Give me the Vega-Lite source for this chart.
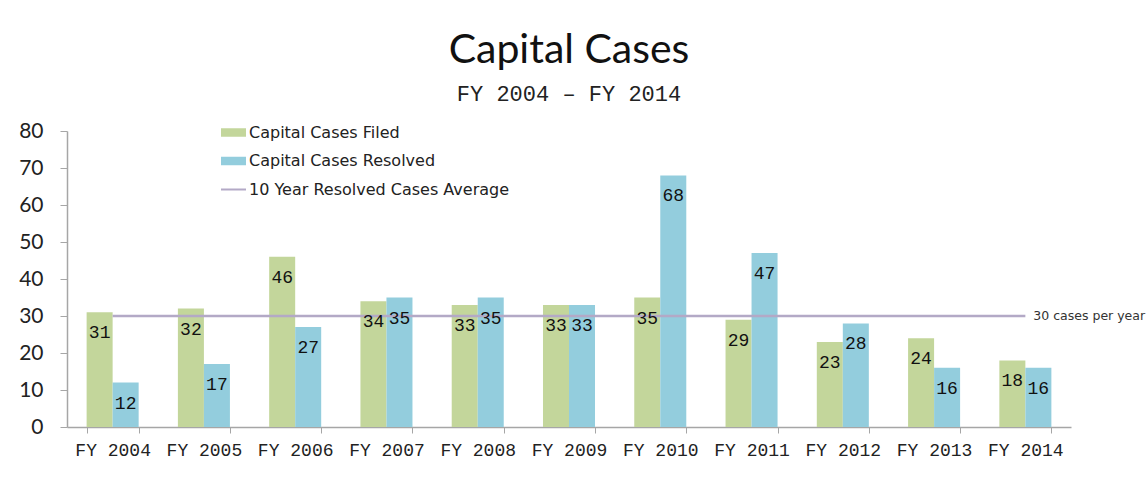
{
  "$schema": "https://vega.github.io/schema/vega-lite/v6.json",
  "width": 1004,
  "height": 296,
  "autosize": {"type": "none"},
  "padding": {"left": 67, "top": 131, "right": 75, "bottom": 54},
  "background": "white",
  "config": {"view": {"stroke": null}, "font": "Lato"},
  "title": {
    "text": "Capital Cases",
    "subtitle": "FY 2004 – FY 2014",
    "fontSize": 41,
    "font": "Lato",
    "fontWeight": "normal",
    "color": "#111111",
    "subtitleFont": "Liberation Mono",
    "subtitleFontSize": 22,
    "subtitleColor": "#222222",
    "subtitlePadding": 12,
    "anchor": "middle",
    "offset": 14
  },
  "datasets": {
    "bars": [
      {"year": "FY 2004", "series": "Capital Cases Filed", "cases": 31},
      {"year": "FY 2004", "series": "Capital Cases Resolved", "cases": 12},
      {"year": "FY 2005", "series": "Capital Cases Filed", "cases": 32},
      {"year": "FY 2005", "series": "Capital Cases Resolved", "cases": 17},
      {"year": "FY 2006", "series": "Capital Cases Filed", "cases": 46},
      {"year": "FY 2006", "series": "Capital Cases Resolved", "cases": 27},
      {"year": "FY 2007", "series": "Capital Cases Filed", "cases": 34},
      {"year": "FY 2007", "series": "Capital Cases Resolved", "cases": 35},
      {"year": "FY 2008", "series": "Capital Cases Filed", "cases": 33},
      {"year": "FY 2008", "series": "Capital Cases Resolved", "cases": 35},
      {"year": "FY 2009", "series": "Capital Cases Filed", "cases": 33},
      {"year": "FY 2009", "series": "Capital Cases Resolved", "cases": 33},
      {"year": "FY 2010", "series": "Capital Cases Filed", "cases": 35},
      {"year": "FY 2010", "series": "Capital Cases Resolved", "cases": 68},
      {"year": "FY 2011", "series": "Capital Cases Filed", "cases": 29},
      {"year": "FY 2011", "series": "Capital Cases Resolved", "cases": 47},
      {"year": "FY 2012", "series": "Capital Cases Filed", "cases": 23},
      {"year": "FY 2012", "series": "Capital Cases Resolved", "cases": 28},
      {"year": "FY 2013", "series": "Capital Cases Filed", "cases": 24},
      {"year": "FY 2013", "series": "Capital Cases Resolved", "cases": 16},
      {"year": "FY 2014", "series": "Capital Cases Filed", "cases": 18},
      {"year": "FY 2014", "series": "Capital Cases Resolved", "cases": 16}
    ],
    "avg": [
      {"year": "FY 2004", "end": "FY 2014", "series": "10 Year Resolved Cases Average", "cases": 30, "note": "30 cases per year"}
    ]
  },
  "encoding": {
    "x": {
      "field": "year",
      "type": "nominal",
      "scale": {"domain": ["FY 2004","FY 2005","FY 2006","FY 2007","FY 2008","FY 2009","FY 2010","FY 2011","FY 2012","FY 2013","FY 2014"], "paddingInner": 0.43, "paddingOuter": 0.215},
      "axis": {
        "title": null,
        "labelAngle": 0,
        "labelFont": "Liberation Mono",
        "labelFontSize": 18,
        "labelColor": "#222222",
        "labelPadding": 8,
        "tickBand": "extent",
        "tickSize": 6,
        "tickColor": "#A6A6A6",
        "domainColor": "#A6A6A6",
        "domainWidth": 1.5
      }
    },
    "y": {
      "field": "cases",
      "type": "quantitative",
      "scale": {"domain": [0, 80], "nice": false},
      "axis": {
        "title": null,
        "values": [0,10,20,30,40,50,60,70,80],
        "labelOverlap": false,
        "grid": false,
        "labelFont": "Lato",
        "labelFontSize": 21,
        "labelColor": "#222222",
        "labelPadding": 17,
        "tickSize": 7,
        "tickColor": "#A6A6A6",
        "domainColor": "#A6A6A6",
        "domainWidth": 1.5
      }
    }
  },
  "layer": [
    {
      "data": {"name": "bars"},
      "mark": {"type": "bar"},
      "encoding": {
        "xOffset": {
          "field": "series",
          "type": "nominal",
          "sort": ["Capital Cases Filed", "Capital Cases Resolved"],
          "scale": {"paddingInner": 0, "paddingOuter": 0}
        },
        "color": {
          "field": "series",
          "type": "nominal",
          "scale": {
            "domain": ["Capital Cases Filed", "Capital Cases Resolved", "10 Year Resolved Cases Average"],
            "range": ["#C3D69B", "#93CDDD", "#B3A9C6"]
          },
          "legend": {
            "title": null,
            "orient": "none",
            "legendX": 154,
            "legendY": -11,
            "padding": 0,
            "labelFont": "DejaVu Sans",
            "labelFontSize": 16,
            "labelColor": "#222222",
            "labelOffset": 3,
            "labelLimit": 500,
            "symbolSize": 625,
            "symbolStrokeWidth": 0,
            "symbolOpacity": 1,
            "rowPadding": 7.5,
            "symbolType": "M-1,-0.34H1V0.34H-1Z",
            "encode": {
              "symbols": {
                "update": {
                  "shape": {"signal": "datum.value === '10 Year Resolved Cases Average' ? 'M-1,-0.08H1V0.08H-1Z' : 'M-1,-0.34H1V0.34H-1Z'"},
                  "fill": {"signal": "scale('color', datum.value)"},
                  "stroke": {"value": "transparent"},
                  "opacity": {"value": 1}
                }
              }
            }
          }
        }
      }
    },
    {
      "data": {"name": "avg"},
      "mark": {"type": "rule", "strokeWidth": 2.5},
      "encoding": {
        "x2": {"field": "end"},
        "color": {"field": "series", "type": "nominal"}
      }
    },
    {
      "data": {"name": "bars"},
      "mark": {"type": "text", "baseline": "top", "dy": 12, "font": "Liberation Mono", "fontSize": 18, "color": "#111111"},
      "encoding": {
        "xOffset": {"field": "series", "type": "nominal", "sort": ["Capital Cases Filed", "Capital Cases Resolved"]},
        "text": {"field": "cases", "type": "quantitative"}
      }
    },
    {
      "data": {"name": "avg"},
      "mark": {"type": "text", "align": "left", "baseline": "middle", "dx": 8, "font": "DejaVu Sans", "fontSize": 12.5, "color": "#333333"},
      "encoding": {
        "x": {"field": "end", "type": "nominal"},
        "text": {"field": "note", "type": "nominal"}
      }
    }
  ]
}
